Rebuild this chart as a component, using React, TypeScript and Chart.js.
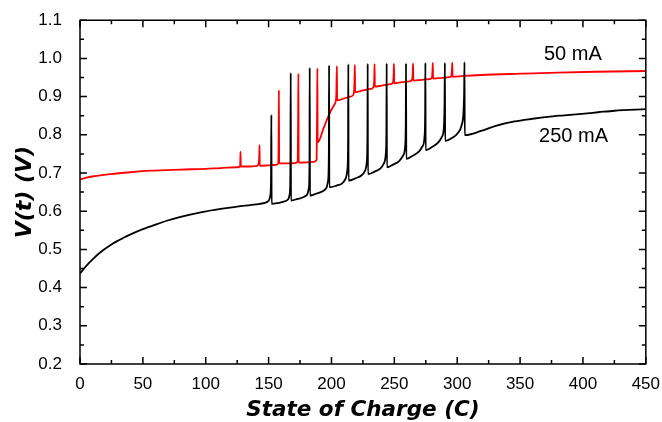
import { useEffect, useRef } from 'react';
import { Chart, registerables } from 'chart.js';

Chart.register(...registerables);

// ---- Data ----
const X_MIN = 0;
const X_MAX = 450;
const Y_MIN = 0.2;
const Y_MAX = 1.1;
const X_STEP = 50;
const Y_STEP = 0.1;

const series250Label = '250 mA';
const series50Label = '50 mA';

const black250X = [
  0, 5, 10, 16, 25, 35, 42, 50, 60, 69, 80, 96, 112, 125, 140, 147, 150, 151.3, 151.9, 152.2, 152.4,
  158, 163, 165.5, 166.8, 167.3, 167.6, 167.8,
  173, 178, 180.5, 182, 182.5, 182.7, 182.9,
  188, 193, 195.8, 197.3, 197.9, 198.1, 198.3,
  204, 208.5, 211.2, 212.7, 213.2, 213.4, 213.6,
  219, 224, 226.6, 228.1, 228.6, 228.8, 229,
  234, 239, 241.7, 243.2, 243.7, 243.9, 244.1,
  249, 254, 257, 258.6, 259.1, 259.3, 259.5,
  264.5, 269.5, 272.4, 274, 274.5, 274.7, 274.9,
  280, 285, 287.9, 289.4, 289.9, 290.2, 290.4,
  296, 300.5, 303.5, 305, 305.5, 305.8, 306,
  319, 330, 345.6, 360, 372, 385, 399, 412, 425, 450,
];
const black250Y = [
  0.437, 0.457, 0.474, 0.492, 0.513, 0.531, 0.542, 0.553, 0.565, 0.575, 0.585, 0.597, 0.606, 0.612, 0.618, 0.622, 0.627, 0.64, 0.68, 0.852, 0.619,
  0.622, 0.626, 0.631, 0.645, 0.7, 0.962, 0.628,
  0.632, 0.637, 0.643, 0.66, 0.72, 0.976, 0.641,
  0.646, 0.652, 0.66, 0.68, 0.75, 0.982, 0.6625,
  0.667, 0.673, 0.685, 0.71, 0.78, 0.985, 0.68,
  0.686, 0.694, 0.705, 0.73, 0.8, 0.986, 0.697,
  0.703, 0.712, 0.725, 0.75, 0.82, 0.987, 0.715,
  0.722, 0.732, 0.746, 0.77, 0.84, 0.987, 0.737,
  0.745, 0.756, 0.77, 0.795, 0.86, 0.988, 0.76,
  0.768, 0.78, 0.795, 0.82, 0.88, 0.988, 0.784,
  0.792, 0.805, 0.825, 0.86, 0.91, 0.99, 0.799,
  0.81, 0.823, 0.835, 0.842, 0.847, 0.851, 0.855, 0.859, 0.863, 0.867,
];

const red50X = [
  0, 5, 12, 24, 40, 56, 80, 100, 112, 125, 127.3, 127.5, 127.7, 127.9,
  135, 140, 141.8, 142.5, 142.8, 143,
  150, 155, 157.5, 158, 158.2, 158.4,
  165, 171, 173.1, 173.5, 173.7, 173.9,
  180, 186, 188.2, 188.6, 188.8, 189,
  194, 199.5, 202.5, 203.8, 204.3, 204.5,
  210, 215, 217.5, 218.2, 218.6, 218.8,
  225, 231, 233.4, 234, 234.3, 234.5,
  240, 246, 248.8, 249.4, 249.7, 249.9,
  256, 262, 264, 264.6, 264.9, 265.1,
  272, 278, 279.8, 280.3, 280.6, 280.8,
  288, 294, 295.3, 295.8, 296.1, 296.3,
  305, 319, 350, 380, 410, 450,
];
const red50Y = [
  0.683, 0.688, 0.692, 0.697, 0.702, 0.706, 0.709, 0.711, 0.713, 0.715, 0.717, 0.735, 0.756, 0.717,
  0.717, 0.718, 0.722, 0.74, 0.773, 0.719,
  0.72, 0.721, 0.724, 0.8, 0.917, 0.725,
  0.725, 0.726, 0.73, 0.85, 0.96, 0.727,
  0.728, 0.729, 0.735, 0.88, 0.974, 0.78,
  0.82, 0.863, 0.88, 0.9, 0.98, 0.89,
  0.895, 0.9, 0.905, 0.93, 0.983, 0.912,
  0.916, 0.92, 0.925, 0.945, 0.985, 0.926,
  0.929, 0.932, 0.936, 0.955, 0.986, 0.935,
  0.938, 0.94, 0.944, 0.96, 0.987, 0.942,
  0.944, 0.946, 0.949, 0.965, 0.988, 0.947,
  0.949, 0.951, 0.954, 0.97, 0.989, 0.952,
  0.954, 0.9565, 0.96, 0.963, 0.965, 0.967,
];

// annotation anchor points (data coordinates)
const label50At = { x: 392, y: 1.009 };
const label250At = { x: 392.5, y: 0.796 };

const TICK_FONT = '"Liberation Sans", Arial, Helvetica, sans-serif';
const TITLE_FONT = '"DejaVu Sans", Verdana, sans-serif';

const framePlugin = {
  id: 'frameTicks',
  afterDraw(chart: any) {
    const { ctx, chartArea, scales } = chart;
    const { left, right, top, bottom } = chartArea;
    const xs = scales.x;
    const ys = scales.y;
    ctx.save();
    ctx.strokeStyle = '#000';
    ctx.lineWidth = 1.5;
    ctx.beginPath();
    ctx.rect(left, top, right - left, bottom - top);
    ctx.stroke();
    const major = 7;
    const minor = 4;
    ctx.beginPath();
    for (let v = X_MIN; v <= X_MAX + 1e-9; v += X_STEP / 2) {
      const isMajor = Math.abs((v / X_STEP) - Math.round(v / X_STEP)) < 1e-6;
      const len = isMajor ? major : minor;
      const px = xs.getPixelForValue(v);
      ctx.moveTo(px, bottom);
      ctx.lineTo(px, bottom - len);
      ctx.moveTo(px, top);
      ctx.lineTo(px, top + len);
    }
    for (let i = 0; i <= Math.round((Y_MAX - Y_MIN) / (Y_STEP / 2)); i++) {
      const v = Y_MIN + i * (Y_STEP / 2);
      const len = i % 2 === 0 ? major : minor;
      const py = ys.getPixelForValue(v);
      ctx.moveTo(left, py);
      ctx.lineTo(left + len, py);
      ctx.moveTo(right, py);
      ctx.lineTo(right - len, py);
    }
    ctx.stroke();

    ctx.fillStyle = '#000';
    ctx.font = `20px ${TICK_FONT}`;
    ctx.textAlign = 'center';
    ctx.textBaseline = 'middle';
    ctx.fillText(series50Label, xs.getPixelForValue(label50At.x), ys.getPixelForValue(label50At.y));
    ctx.fillText(series250Label, xs.getPixelForValue(label250At.x), ys.getPixelForValue(label250At.y));
    ctx.restore();
  },
};

export default function App() {
  const ref = useRef<HTMLCanvasElement | null>(null);

  useEffect(() => {
    document.body.style.margin = '0';
    const canvas = ref.current;
    if (!canvas) return;
    const toPts = (xs: number[], ys: number[]) => xs.map((x, i) => ({ x, y: ys[i] }));
    const chart = new Chart(canvas, {
      type: 'line',
      data: {
        datasets: [
          {
            label: series250Label,
            data: toPts(black250X, black250Y),
            borderColor: '#000000',
            borderWidth: 1.8,
            pointRadius: 0,
            cubicInterpolationMode: 'monotone',
            fill: false,
          },
          {
            label: series50Label,
            data: toPts(red50X, red50Y),
            borderColor: '#ff0000',
            borderWidth: 1.8,
            pointRadius: 0,
            cubicInterpolationMode: 'monotone',
            fill: false,
          },
        ],
      },
      options: {
        responsive: false,
        animation: false,
        devicePixelRatio: 1,
        layout: { padding: { top: 19, right: 15, left: 0, bottom: 0 } },
        plugins: {
          legend: { display: false },
          tooltip: { enabled: false },
        },
        scales: {
          x: {
            type: 'linear',
            min: X_MIN,
            max: X_MAX,
            grid: { display: false },
            border: { display: false },
            ticks: {
              stepSize: X_STEP,
              maxRotation: 0,
              autoSkip: false,
              padding: 2,
              color: '#000',
              font: { family: TICK_FONT, size: 17 },
            },
            title: {
              display: true,
              text: 'State of Charge (C)',
              color: '#000',
              font: { family: TITLE_FONT, size: 21.5, weight: 'bold', style: 'italic', lineHeight: 1 },
              padding: { top: 0, bottom: 1 },
            },
            afterFit(scale: any) {
              scale.height = 58;
            },
          },
          y: {
            type: 'linear',
            min: Y_MIN,
            max: Y_MAX,
            grid: { display: false },
            border: { display: false },
            ticks: {
              stepSize: Y_STEP,
              padding: 10,
              color: '#000',
              font: { family: TICK_FONT, size: 17 },
              callback: (v: any) => Number(v).toFixed(1),
            },
            title: {
              display: true,
              text: 'V(t) (V)',
              color: '#000',
              font: { family: TITLE_FONT, size: 22, weight: 'bold', style: 'italic', lineHeight: 1 },
              padding: { top: 14, bottom: 0 },
            },
            afterFit(scale: any) {
              scale.width = 80;
            },
          },
        },
      },
      plugins: [framePlugin],
    });
    return () => chart.destroy();
  }, []);

  return (
    <div style={{ width: 662, height: 422 }}>
      <canvas ref={ref} width={662} height={422} />
    </div>
  );
}
